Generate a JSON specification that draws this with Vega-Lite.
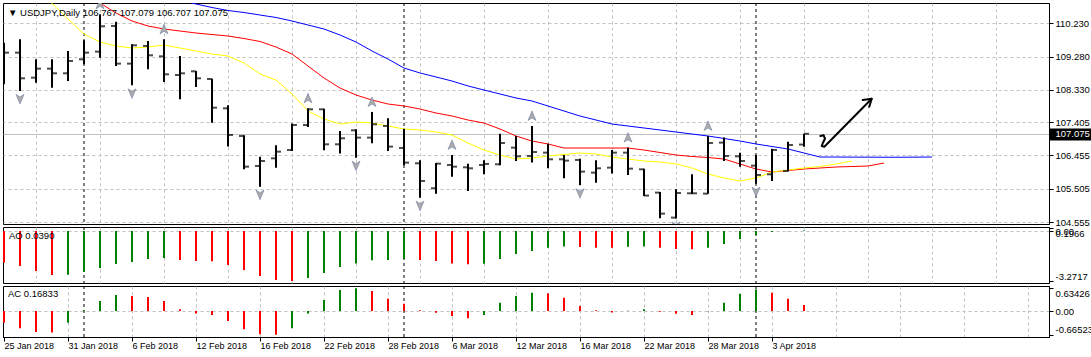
{
  "$schema": "https://vega.github.io/schema/vega-lite/v6.json",
  "background": "white",
  "padding": {"left": 2, "top": 2, "right": 0, "bottom": 0},
  "spacing": 3,
  "bounds": "flush",
  "config": {
    "view": {"stroke": "black", "strokeWidth": 1},
    "font": "Liberation Sans",
    "axis": {"labelFont": "Liberation Sans", "labelFontSize": 9.5, "labelColor": "black", "gridColor": "#c0c0c0", "gridDash": [3, 3], "gridWidth": 1, "tickColor": "black", "domainColor": "black", "tickSize": 4, "labelPadding": 2},
    "title": {"font": "Liberation Sans", "fontSize": 9.5, "fontWeight": "normal", "color": "black", "anchor": "start", "frame": "group", "baseline": "top"}
  },
  "datasets": {
    "seps": [{"i": 5}, {"i": 25}, {"i": 47}],
    "bars": [
      {"i": 0, "d": "2018-01-25", "o": 109.45, "h": 109.678, "l": 108.488, "c": 109.392, "ao": -2.07, "ac": -0.33, "fu": false, "fd": false},
      {"i": 1, "d": "2018-01-26", "o": 109.392, "h": 109.773, "l": 108.297, "c": 108.659, "ao": -2.29, "ac": -0.48, "fu": false, "fd": true},
      {"i": 2, "d": "2018-01-29", "o": 108.678, "h": 109.202, "l": 108.535, "c": 108.935, "ao": -2.62, "ac": -0.59, "fu": false, "fd": false},
      {"i": 3, "d": "2018-01-30", "o": 108.935, "h": 109.202, "l": 108.393, "c": 108.802, "ao": -2.88, "ac": -0.6, "fu": false, "fd": false},
      {"i": 4, "d": "2018-01-31", "o": 108.802, "h": 109.44, "l": 108.583, "c": 109.154, "ao": -2.86, "ac": -0.33, "fu": false, "fd": false},
      {"i": 5, "d": "2018-02-01", "o": 109.202, "h": 109.745, "l": 109.059, "c": 109.392, "ao": -2.68, "ac": 0.02, "fu": false, "fd": false},
      {"i": 6, "d": "2018-02-02", "o": 109.421, "h": 110.487, "l": 109.249, "c": 110.144, "ao": -2.42, "ac": 0.28, "fu": true, "fd": false},
      {"i": 7, "d": "2018-02-05", "o": 110.154, "h": 110.278, "l": 109.011, "c": 109.078, "ao": -2.16, "ac": 0.45, "fu": false, "fd": false},
      {"i": 8, "d": "2018-02-06", "o": 109.078, "h": 109.63, "l": 108.459, "c": 109.602, "ao": -2.03, "ac": 0.42, "fu": false, "fd": true},
      {"i": 9, "d": "2018-02-07", "o": 109.583, "h": 109.725, "l": 108.916, "c": 109.316, "ao": -1.83, "ac": 0.39, "fu": false, "fd": false},
      {"i": 10, "d": "2018-02-08", "o": 109.287, "h": 109.773, "l": 108.554, "c": 108.773, "ao": -1.77, "ac": 0.28, "fu": true, "fd": false},
      {"i": 11, "d": "2018-02-09", "o": 108.754, "h": 109.297, "l": 108.059, "c": 108.802, "ao": -1.9, "ac": 0.05, "fu": false, "fd": false},
      {"i": 12, "d": "2018-02-12", "o": 108.859, "h": 108.869, "l": 108.412, "c": 108.659, "ao": -1.96, "ac": -0.07, "fu": false, "fd": false},
      {"i": 13, "d": "2018-02-13", "o": 108.64, "h": 108.65, "l": 107.393, "c": 107.821, "ao": -1.98, "ac": -0.11, "fu": false, "fd": false},
      {"i": 14, "d": "2018-02-14", "o": 107.802, "h": 107.888, "l": 106.708, "c": 107.041, "ao": -2.22, "ac": -0.28, "fu": false, "fd": false},
      {"i": 15, "d": "2018-02-15", "o": 107.012, "h": 107.03, "l": 106.06, "c": 106.136, "ao": -2.55, "ac": -0.51, "fu": false, "fd": false},
      {"i": 16, "d": "2018-02-16", "o": 106.155, "h": 106.422, "l": 105.565, "c": 106.298, "ao": -2.94, "ac": -0.65, "fu": false, "fd": true},
      {"i": 17, "d": "2018-02-19", "o": 106.374, "h": 106.746, "l": 106.108, "c": 106.565, "ao": -3.21, "ac": -0.66523, "fu": false, "fd": false},
      {"i": 18, "d": "2018-02-20", "o": 106.612, "h": 107.365, "l": 106.584, "c": 107.326, "ao": -3.2717, "ac": -0.48, "fu": false, "fd": false},
      {"i": 19, "d": "2018-02-21", "o": 107.326, "h": 107.802, "l": 107.269, "c": 107.774, "ao": -3.08, "ac": -0.07, "fu": true, "fd": false},
      {"i": 20, "d": "2018-02-22", "o": 107.774, "h": 107.79, "l": 106.603, "c": 106.774, "ao": -2.75, "ac": 0.31, "fu": false, "fd": false},
      {"i": 21, "d": "2018-02-23", "o": 106.774, "h": 107.155, "l": 106.508, "c": 106.946, "ao": -2.36, "ac": 0.59, "fu": false, "fd": false},
      {"i": 22, "d": "2018-02-26", "o": 107.174, "h": 107.203, "l": 106.393, "c": 106.965, "ao": -2.12, "ac": 0.63426, "fu": false, "fd": true},
      {"i": 23, "d": "2018-02-27", "o": 106.965, "h": 107.698, "l": 106.803, "c": 107.345, "ao": -1.92, "ac": 0.56, "fu": true, "fd": false},
      {"i": 24, "d": "2018-02-28", "o": 107.298, "h": 107.517, "l": 106.584, "c": 106.708, "ao": -1.9, "ac": 0.34, "fu": false, "fd": false},
      {"i": 25, "d": "2018-03-01", "o": 106.67, "h": 107.222, "l": 106.174, "c": 106.251, "ao": -1.83, "ac": 0.2, "fu": false, "fd": false},
      {"i": 26, "d": "2018-03-02", "o": 106.232, "h": 106.317, "l": 105.251, "c": 105.727, "ao": -1.9, "ac": 0.02, "fu": false, "fd": true},
      {"i": 27, "d": "2018-03-05", "o": 105.518, "h": 106.241, "l": 105.365, "c": 106.222, "ao": -1.96, "ac": -0.05, "fu": false, "fd": false},
      {"i": 28, "d": "2018-03-06", "o": 106.184, "h": 106.47, "l": 105.851, "c": 106.136, "ao": -2.12, "ac": -0.14, "fu": true, "fd": false},
      {"i": 29, "d": "2018-03-07", "o": 106.117, "h": 106.222, "l": 105.441, "c": 106.089, "ao": -2.17, "ac": -0.2, "fu": false, "fd": false},
      {"i": 30, "d": "2018-03-08", "o": 106.184, "h": 106.317, "l": 105.918, "c": 106.213, "ao": -2.14, "ac": -0.11, "fu": false, "fd": false},
      {"i": 31, "d": "2018-03-09", "o": 106.203, "h": 107.079, "l": 106.174, "c": 106.812, "ao": -1.83, "ac": 0.23, "fu": false, "fd": false},
      {"i": 32, "d": "2018-03-12", "o": 106.679, "h": 107.012, "l": 106.298, "c": 106.431, "ao": -1.5, "ac": 0.42, "fu": false, "fd": false},
      {"i": 33, "d": "2018-03-13", "o": 106.441, "h": 107.298, "l": 106.251, "c": 106.555, "ao": -1.31, "ac": 0.51, "fu": true, "fd": false},
      {"i": 34, "d": "2018-03-14", "o": 106.536, "h": 106.793, "l": 106.089, "c": 106.346, "ao": -1.09, "ac": 0.5, "fu": false, "fd": false},
      {"i": 35, "d": "2018-03-15", "o": 106.346, "h": 106.47, "l": 105.803, "c": 106.308, "ao": -1.02, "ac": 0.37, "fu": false, "fd": false},
      {"i": 36, "d": "2018-03-16", "o": 106.327, "h": 106.365, "l": 105.603, "c": 105.994, "ao": -1.04, "ac": 0.14, "fu": false, "fd": true},
      {"i": 37, "d": "2018-03-19", "o": 105.965, "h": 106.317, "l": 105.679, "c": 106.089, "ao": -1.09, "ac": 0.02, "fu": false, "fd": false},
      {"i": 38, "d": "2018-03-20", "o": 106.108, "h": 106.612, "l": 105.937, "c": 106.536, "ao": -1.1, "ac": -0.04, "fu": false, "fd": false},
      {"i": 39, "d": "2018-03-21", "o": 106.536, "h": 106.679, "l": 105.898, "c": 106.079, "ao": -1.03, "ac": 0.01, "fu": true, "fd": false},
      {"i": 40, "d": "2018-03-22", "o": 106.06, "h": 106.079, "l": 105.299, "c": 105.31, "ao": -1.02, "ac": 0.05, "fu": false, "fd": false},
      {"i": 41, "d": "2018-03-23", "o": 105.394, "h": 105.413, "l": 104.661, "c": 104.794, "ao": -1.09, "ac": -0.02, "fu": false, "fd": false},
      {"i": 42, "d": "2018-03-26", "o": 104.68, "h": 105.489, "l": 104.655, "c": 105.384, "ao": -1.18, "ac": -0.08, "fu": false, "fd": true},
      {"i": 43, "d": "2018-03-27", "o": 105.375, "h": 105.918, "l": 105.365, "c": 105.375, "ao": -1.19, "ac": -0.11, "fu": false, "fd": false},
      {"i": 44, "d": "2018-03-28", "o": 105.365, "h": 107.012, "l": 105.365, "c": 106.812, "ao": -1.09, "ac": -0.01, "fu": true, "fd": false},
      {"i": 45, "d": "2018-03-29", "o": 106.822, "h": 106.965, "l": 106.298, "c": 106.441, "ao": -0.85, "ac": 0.23, "fu": false, "fd": false},
      {"i": 46, "d": "2018-03-30", "o": 106.431, "h": 106.536, "l": 106.136, "c": 106.298, "ao": -0.52, "ac": 0.48, "fu": false, "fd": false},
      {"i": 47, "d": "2018-04-02", "o": 106.165, "h": 106.47, "l": 105.651, "c": 105.898, "ao": -0.26, "ac": 0.6, "fu": false, "fd": true},
      {"i": 48, "d": "2018-04-03", "o": 105.918, "h": 106.65, "l": 105.727, "c": 106.612, "ao": -0.06, "ac": 0.51, "fu": false, "fd": false},
      {"i": 49, "d": "2018-04-04", "o": 106.013, "h": 106.85, "l": 105.994, "c": 106.755, "ao": -0.02, "ac": 0.34, "fu": false, "fd": false},
      {"i": 50, "d": "2018-04-05", "o": 106.767, "h": 107.079, "l": 106.707, "c": 107.075, "ao": 0.039, "ac": 0.16833, "fu": false, "fd": false}
    ],
    "ma": [
      {"i": 2, "lips": 111.2},
      {"i": 3, "lips": 110.8},
      {"i": 4, "lips": 110.35},
      {"i": 5, "teeth": 110.981, "lips": 109.924},
      {"i": 6, "teeth": 110.81, "lips": 109.696},
      {"i": 7, "teeth": 110.524, "lips": 109.582},
      {"i": 8, "teeth": 110.296, "lips": 109.525},
      {"i": 9, "teeth": 110.153, "lips": 109.553},
      {"i": 10, "teeth": 110.067, "lips": 109.61},
      {"i": 11, "jaw": 110.895, "teeth": 110.01, "lips": 109.525},
      {"i": 12, "jaw": 110.781, "teeth": 109.953, "lips": 109.439},
      {"i": 13, "jaw": 110.681, "teeth": 109.91, "lips": 109.353},
      {"i": 14, "jaw": 110.595, "teeth": 109.867, "lips": 109.296},
      {"i": 15, "jaw": 110.538, "teeth": 109.796, "lips": 109.096},
      {"i": 16, "jaw": 110.467, "teeth": 109.71, "lips": 108.782},
      {"i": 17, "jaw": 110.396, "teeth": 109.553, "lips": 108.61},
      {"i": 18, "jaw": 110.296, "teeth": 109.353, "lips": 108.211},
      {"i": 19, "jaw": 110.181, "teeth": 109.01, "lips": 107.725},
      {"i": 20, "jaw": 110.067, "teeth": 108.668, "lips": 107.497},
      {"i": 21, "jaw": 109.896, "teeth": 108.382, "lips": 107.354},
      {"i": 22, "jaw": 109.696, "teeth": 108.182, "lips": 107.411},
      {"i": 23, "jaw": 109.439, "teeth": 108.039, "lips": 107.382},
      {"i": 24, "jaw": 109.21, "teeth": 107.925, "lips": 107.297},
      {"i": 25, "jaw": 108.953, "teeth": 107.868, "lips": 107.211},
      {"i": 26, "jaw": 108.811, "teeth": 107.782, "lips": 107.183},
      {"i": 27, "jaw": 108.697, "teeth": 107.668, "lips": 107.125},
      {"i": 28, "jaw": 108.582, "teeth": 107.582, "lips": 107.04},
      {"i": 29, "jaw": 108.44, "teeth": 107.468, "lips": 106.811},
      {"i": 30, "jaw": 108.325, "teeth": 107.382, "lips": 106.611},
      {"i": 31, "jaw": 108.211, "teeth": 107.211, "lips": 106.469},
      {"i": 32, "jaw": 108.097, "teeth": 107.011, "lips": 106.354},
      {"i": 33, "jaw": 108.011, "teeth": 106.868, "lips": 106.383},
      {"i": 34, "jaw": 107.868, "teeth": 106.783, "lips": 106.44},
      {"i": 35, "jaw": 107.725, "teeth": 106.668, "lips": 106.483},
      {"i": 36, "jaw": 107.582, "teeth": 106.668, "lips": 106.526},
      {"i": 37, "jaw": 107.468, "teeth": 106.668, "lips": 106.497},
      {"i": 38, "jaw": 107.354, "teeth": 106.668, "lips": 106.411},
      {"i": 39, "jaw": 107.297, "teeth": 106.668, "lips": 106.354},
      {"i": 40, "jaw": 107.24, "teeth": 106.611, "lips": 106.297},
      {"i": 41, "jaw": 107.183, "teeth": 106.54, "lips": 106.269},
      {"i": 42, "jaw": 107.125, "teeth": 106.469, "lips": 106.212},
      {"i": 43, "jaw": 107.068, "teeth": 106.426, "lips": 106.097},
      {"i": 44, "jaw": 107.011, "teeth": 106.397, "lips": 105.926},
      {"i": 45, "jaw": 106.94, "teeth": 106.354, "lips": 105.812},
      {"i": 46, "jaw": 106.868, "teeth": 106.212, "lips": 105.726},
      {"i": 47, "jaw": 106.783, "teeth": 106.068, "lips": 105.812},
      {"i": 48, "jaw": 106.711, "teeth": 105.983, "lips": 105.983},
      {"i": 49, "jaw": 106.64, "teeth": 106.026, "lips": 106.04},
      {"i": 50, "jaw": 106.526, "teeth": 106.068, "lips": 106.097},
      {"i": 51, "jaw": 106.411, "teeth": 106.097, "lips": 106.14},
      {"i": 52, "jaw": 106.411, "teeth": 106.126, "lips": 106.212},
      {"i": 53, "jaw": 106.408, "teeth": 106.14, "lips": 106.297},
      {"i": 54, "jaw": 106.408, "teeth": 106.154},
      {"i": 55, "jaw": 106.405, "teeth": 106.24},
      {"i": 56, "jaw": 106.405},
      {"i": 57, "jaw": 106.408},
      {"i": 58, "jaw": 106.411}
    ],
    "arrow": [
      {"seg": "shaft", "k": 0, "i": 51.02, "p": 107.011},
      {"seg": "shaft", "k": 1, "i": 51.23, "p": 107.031},
      {"seg": "shaft", "k": 2, "i": 51.31, "p": 106.934},
      {"seg": "shaft", "k": 3, "i": 51.17, "p": 106.803},
      {"seg": "shaft", "k": 4, "i": 51.11, "p": 106.726},
      {"seg": "shaft", "k": 5, "i": 51.27, "p": 106.706},
      {"seg": "shaft", "k": 6, "i": 54.23, "p": 108.077},
      {"seg": "head", "k": 0, "i": 53.67, "p": 108.039},
      {"seg": "head", "k": 1, "i": 54.23, "p": 108.077},
      {"seg": "head", "k": 2, "i": 54.08, "p": 107.848}
    ]
  },
  "vconcat": [
    {
      "width": 1046,
      "height": 221,
      "title": {"text": "▼  USDJPY,Daily   106.767 107.079 106.707 107.075", "dx": 5, "offset": -15},
      "resolve": {"axis": {"y": "independent"}},
      "layer": [
        {
          "data": {"name": "seps"},
          "mark": {"type": "rule", "color": "black", "strokeDash": [3, 3], "strokeWidth": 1},
          "encoding": {
            "x": {"field": "i", "type": "quantitative", "title": null, "scale": {"domain": [-0.0625, 65.3125], "nice": false, "zero": false},
              "axis": {"values": [2,4,6,8,10,12,14,16,18,20,22,24,26,28,30,32,34,36,38,40,42,44,46,48,50,52,54,56,58,60,62,64], "labels": false, "ticks": false, "domain": false, "grid": true}}
          }
        },
        {
          "data": {"name": "ma"},
          "mark": {"type": "line", "color": "#0000ff", "strokeWidth": 1, "clip": true},
          "encoding": {
            "x": {"field": "i", "type": "quantitative", "title": null},
            "y": {"field": "jaw", "type": "quantitative", "title": null, "scale": {"domain": [104.498, 110.81], "nice": false, "zero": false},
              "axis": {"orient": "right", "values": [104.555, 105.505, 106.455, 107.405, 108.33, 109.28, 110.23], "format": ".3f", "grid": true, "labelOverlap": false, "domain": true}}
          }
        },
        {
          "data": {"name": "ma"},
          "mark": {"type": "line", "color": "#ff0000", "strokeWidth": 1, "clip": true},
          "encoding": {
            "x": {"field": "i", "type": "quantitative", "title": null},
            "y": {"field": "teeth", "type": "quantitative", "title": null, "scale": {"domain": [104.498, 110.81], "nice": false, "zero": false}, "axis": null}
          }
        },
        {
          "data": {"name": "ma"},
          "mark": {"type": "line", "color": "#ffff00", "strokeWidth": 1, "clip": true},
          "encoding": {
            "x": {"field": "i", "type": "quantitative", "title": null},
            "y": {"field": "lips", "type": "quantitative", "title": null, "scale": {"domain": [104.498, 110.81], "nice": false, "zero": false}, "axis": null}
          }
        },
        {
          "data": {"name": "bars"},
          "mark": {"type": "rule", "color": "black", "strokeWidth": 2, "clip": true},
          "encoding": {
            "x": {"field": "i", "type": "quantitative", "title": null},
            "y": {"field": "l", "type": "quantitative", "title": null, "scale": {"domain": [104.498, 110.81], "nice": false, "zero": false},
              "axis": {"orient": "right", "values": [107.075], "format": ".3f", "domain": false, "grid": true, "gridDash": [], "gridColor": "#c0c0c0", "tickSize": 43, "tickWidth": 12, "tickColor": "black", "labelColor": "white", "labelPadding": -37, "labelOverlap": false}},
            "y2": {"field": "h"}
          }
        },
        {
          "data": {"name": "bars"},
          "mark": {"type": "tick", "orient": "horizontal", "color": "black", "thickness": 2, "size": 5, "xOffset": -2.5, "clip": true},
          "encoding": {
            "x": {"field": "i", "type": "quantitative", "title": null},
            "y": {"field": "o", "type": "quantitative", "title": null, "scale": {"domain": [104.498, 110.81], "nice": false, "zero": false}, "axis": null}
          }
        },
        {
          "data": {"name": "bars"},
          "mark": {"type": "tick", "orient": "horizontal", "color": "black", "thickness": 2, "size": 5, "xOffset": 2.5, "clip": true},
          "encoding": {
            "x": {"field": "i", "type": "quantitative", "title": null},
            "y": {"field": "c", "type": "quantitative", "title": null, "scale": {"domain": [104.498, 110.81], "nice": false, "zero": false}, "axis": null}
          }
        },
        {
          "data": {"name": "bars"},
          "transform": [{"filter": "datum.fu"}],
          "mark": {"type": "point", "shape": "M0,-1L0.8,0.9L0,0.4L-0.8,0.9Z", "filled": true, "fill": "#ababab", "stroke": "#6f7f9f", "strokeWidth": 0.6, "size": 100, "opacity": 1, "yOffset": -10, "clip": true},
          "encoding": {
            "x": {"field": "i", "type": "quantitative", "title": null},
            "y": {"field": "h", "type": "quantitative", "title": null, "scale": {"domain": [104.498, 110.81], "nice": false, "zero": false}, "axis": null}
          }
        },
        {
          "data": {"name": "bars"},
          "transform": [{"filter": "datum.fd"}],
          "mark": {"type": "point", "shape": "M0,1L0.8,-0.9L0,-0.4L-0.8,-0.9Z", "filled": true, "fill": "#ababab", "stroke": "#6f7f9f", "strokeWidth": 0.6, "size": 100, "opacity": 1, "yOffset": 8, "clip": true},
          "encoding": {
            "x": {"field": "i", "type": "quantitative", "title": null},
            "y": {"field": "l", "type": "quantitative", "title": null, "scale": {"domain": [104.498, 110.81], "nice": false, "zero": false}, "axis": null}
          }
        },
        {
          "data": {"name": "arrow"},
          "mark": {"type": "line", "color": "black", "strokeWidth": 2, "strokeJoin": "round", "strokeCap": "round"},
          "encoding": {
            "x": {"field": "i", "type": "quantitative", "title": null},
            "y": {"field": "p", "type": "quantitative", "title": null, "scale": {"domain": [104.498, 110.81], "nice": false, "zero": false}, "axis": null},
            "detail": {"field": "seg", "type": "nominal"},
            "order": {"field": "k", "type": "quantitative"}
          }
        }
      ]
    },
    {
      "width": 1046,
      "height": 56,
      "title": {"text": "AO 0.0390", "dx": 6, "offset": -14},
      "layer": [
        {
          "data": {"name": "seps"},
          "mark": {"type": "rule", "color": "black", "strokeDash": [3, 3], "strokeWidth": 1},
          "encoding": {
            "x": {"field": "i", "type": "quantitative", "title": null, "scale": {"domain": [-0.0625, 65.3125], "nice": false, "zero": false},
              "axis": {"values": [2,4,6,8,10,12,14,16,18,20,22,24,26,28,30,32,34,36,38,40,42,44,46,48,50,52,54,56,58,60,62,64], "labels": false, "ticks": false, "domain": false, "grid": true}}
          }
        },
        {
          "data": {"name": "bars"},
          "transform": [{"window": [{"op": "lag", "field": "ao", "as": "prev"}], "sort": [{"field": "i", "order": "ascending"}]}],
          "mark": {"type": "rule", "strokeWidth": 2},
          "encoding": {
            "x": {"field": "i", "type": "quantitative", "title": null},
            "y": {"field": "ao", "type": "quantitative", "title": null, "scale": {"domain": [-3.4, 0.262], "nice": false, "zero": false},
              "axis": {"orient": "right", "values": [0.1966, 0, -3.2717], "labelExpr": "datum.value == 0 ? '0.00' : datum.value > 0 ? '0.1966' : '-3.2717'", "grid": true, "gridOpacity": {"condition": {"test": "datum.value == 0", "value": 1}, "value": 0}, "labelBaseline": {"condition": {"test": "datum.value > 0", "value": "top"}, "value": "middle"}, "labelOffset": {"condition": {"test": "datum.value < 0", "value": -5}, "value": 0}, "labelOverlap": false}},
            "y2": {"datum": 0},
            "color": {"condition": {"test": "datum.prev != null && datum.ao > datum.prev", "value": "#008000"}, "value": "#ff0000"}
          }
        }
      ]
    },
    {
      "width": 1046,
      "height": 51,
      "title": {"text": "AC 0.16833", "dx": 5, "offset": -12.5},
      "layer": [
        {
          "data": {"name": "seps"},
          "mark": {"type": "rule", "color": "black", "strokeDash": [3, 3], "strokeWidth": 1},
          "encoding": {
            "x": {"field": "i", "type": "quantitative", "title": null, "scale": {"domain": [-0.0625, 65.3125], "nice": false, "zero": false},
              "axis": {"orient": "bottom", "values": [0,2,4,6,8,10,12,14,16,18,20,22,24,26,28,30,32,34,36,38,40,42,44,46,48,50,52,54,56,58,60,62,64],
                "labelExpr": "(datum.value % 4 == 0 && datum.value <= 48) ? ['25 Jan 2018','31 Jan 2018','6 Feb 2018','12 Feb 2018','16 Feb 2018','22 Feb 2018','28 Feb 2018','6 Mar 2018','12 Mar 2018','16 Mar 2018','22 Mar 2018','28 Mar 2018','3 Apr 2018'][datum.value / 4] : ''",
                "labelAlign": "left", "labelFlush": false, "labelOverlap": false, "labelBound": false, "labelPadding": 0, "labelFontSize": 9, "domain": true, "grid": true,
                "gridOpacity": {"condition": {"test": "datum.value == 0", "value": 0}, "value": 1},
                "tickOpacity": {"condition": {"test": "datum.value % 4 == 0 && datum.value <= 48", "value": 1}, "value": 0}}}
          }
        },
        {
          "data": {"name": "bars"},
          "transform": [{"window": [{"op": "lag", "field": "ac", "as": "prev"}], "sort": [{"field": "i", "order": "ascending"}]}],
          "mark": {"type": "rule", "strokeWidth": 2},
          "encoding": {
            "x": {"field": "i", "type": "quantitative", "title": null},
            "y": {"field": "ac", "type": "quantitative", "title": null, "scale": {"domain": [-0.728, 0.7], "nice": false, "zero": false},
              "axis": {"orient": "right", "values": [0.63426, 0, -0.66523], "labelExpr": "datum.value == 0 ? '0.00' : datum.value > 0 ? '0.63426' : '-0.66523'", "grid": true, "gridOpacity": {"condition": {"test": "datum.value == 0", "value": 1}, "value": 0}, "labelBaseline": {"condition": {"test": "datum.value > 0", "value": "top"}, "value": "middle"}, "labelOffset": {"condition": {"test": "datum.value < 0", "value": -5}, "value": 0}, "labelOverlap": false}},
            "y2": {"datum": 0},
            "color": {"condition": {"test": "datum.prev != null && datum.ac > datum.prev", "value": "#008000"}, "value": "#ff0000"}
          }
        }
      ]
    }
  ]
}
